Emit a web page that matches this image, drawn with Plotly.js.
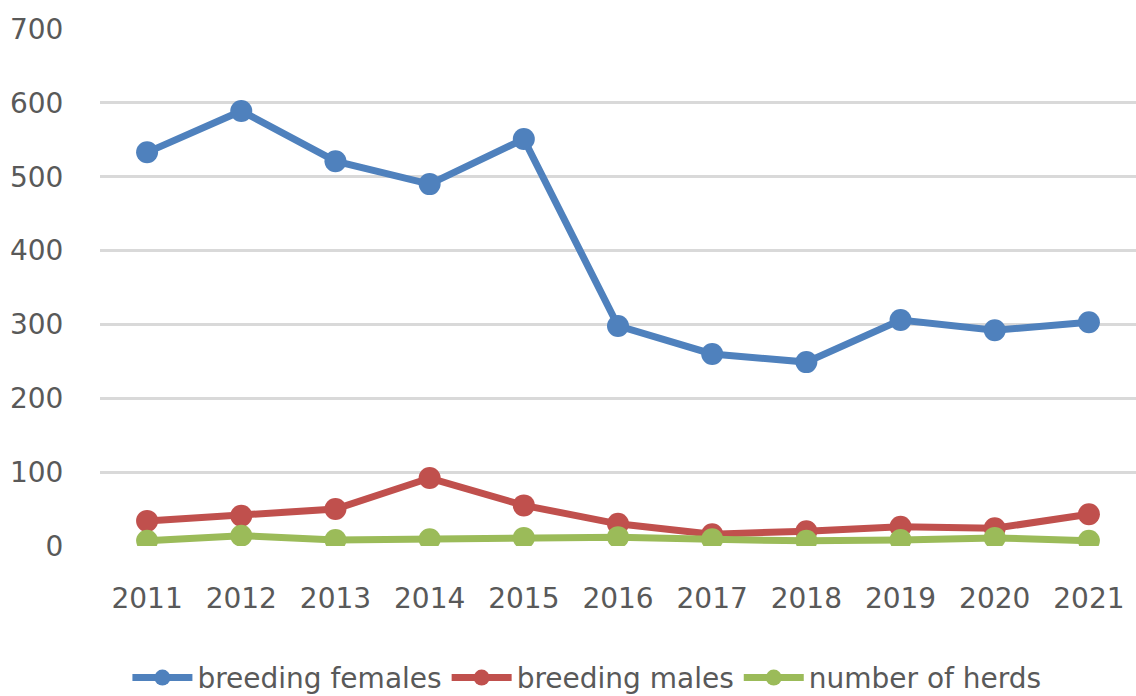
<!DOCTYPE html>
<html>
<head>
<meta charset="utf-8">
<script src="https://cdn.plot.ly/plotly-3.0.1.min.js"></script>
<style>
  html, body { margin: 0; padding: 0; background: #fff; }
  #plot { width: 1136px; height: 696px; }
</style>
</head>
<body>
<div id="plot"></div>
<script>
// years on the category axis
var years = ["2011", "2012", "2013", "2014", "2015", "2016", "2017", "2018", "2019", "2020", "2021"];

// values
var breedingFemales = [533, 589, 521, 490, 551, 298, 260, 249, 306, 292, 303];
var breedingMales = [34, 41, 50, 92, 55, 30, 16, 20, 26, 24, 43];
var numberOfHerds = [7, 14, 8, 9, 11, 12, 9, 7, 8, 11, 7];

function series(name, vals, color) {
  return {
    x: years,
    y: vals,
    name: name,
    type: "scatter",
    mode: "lines+markers",
    line: { color: color, width: 7 },
    marker: { color: color, size: 22 }
  };
}

var data = [
  series("breeding females", breedingFemales, "#4F81BD"),
  series("breeding males", breedingMales, "#C0504D"),
  series("number of herds", numberOfHerds, "#9BBB59")
];

var layout = {
  width: 1136,
  height: 696,
  margin: { l: 100, r: 0, t: 29, b: 150, autoexpand: false },
  paper_bgcolor: "#ffffff",
  plot_bgcolor: "#ffffff",
  font: { family: "DejaVu Sans, sans-serif", size: 28, color: "#595959" },
  showlegend: true,
  legend: {
    orientation: "h",
    x: 0.47,
    xanchor: "center",
    y: -0.255,
    yanchor: "middle",
    font: { size: 28, color: "#595959" },
    itemwidth: 60,
    tracegroupgap: 0
  },
  xaxis: {
    type: "category",
    range: [-0.5, 10.5],
    automargin: false,
    showgrid: false,
    zeroline: false,
    showline: false,
    ticks: "outside",
    ticklen: 27,
    tickcolor: "rgba(0,0,0,0)",
    fixedrange: true
  },
  yaxis: {
    range: [0, 700],
    dtick: 100,
    automargin: false,
    showgrid: true,
    gridcolor: "#d9d9d9",
    gridwidth: 3,
    zeroline: false,
    showline: false,
    ticks: "outside",
    ticklen: 30,
    tickcolor: "rgba(0,0,0,0)",
    fixedrange: true
  }
};

Plotly.newPlot("plot", data, layout, { displayModeBar: false, staticPlot: true });
</script>
</body>
</html>
